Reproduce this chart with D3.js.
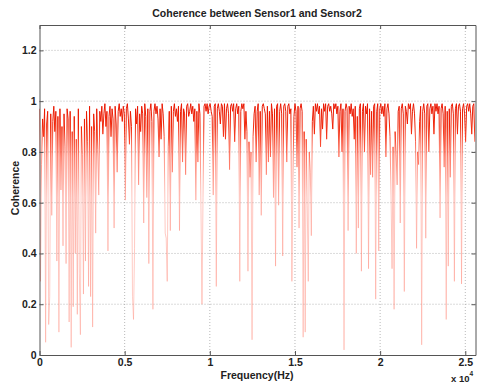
<!DOCTYPE html>
<html>
<head>
<meta charset="utf-8">
<script src="https://cdn.jsdelivr.net/npm/d3@7"></script>
<style>
  body { margin: 0; background: #fff; }
  text { font-family: Arial, "Liberation Sans", sans-serif; }
</style>
</head>
<body>
<script>
// coherence estimate, one value every 60 Hz starting at 0 Hz
const freqStep = 60
const coherence = [
  0.97, 0.29, 0.75, 0.93, 0.86, 0.97, 0.05, 0.91, 0.96, 0.12, 0.23, 0.95, 0.55, 0.92, 0.98, 0.88, 0.96, 0.37, 0.94, 0.09,
  0.97, 0.65, 0.90, 0.43, 0.95, 0.82, 0.36, 0.97, 0.93, 0.13, 0.96, 0.03, 0.88, 0.19, 0.94, 0.40, 0.85, 0.16, 0.97, 0.32,
  0.08, 0.90, 0.79, 0.24, 0.93, 0.37, 0.96, 0.84, 0.27, 0.98, 0.23, 0.90, 0.11, 0.95, 0.88, 0.48, 0.97, 0.81, 0.63, 0.96,
  0.92, 0.98, 0.87, 0.95, 0.99, 0.90, 0.96, 0.41, 0.94, 0.98, 0.86, 0.97, 0.93, 0.50, 0.98, 0.91, 0.72, 0.96, 0.99, 0.94,
  0.97, 0.92, 0.98, 0.95, 0.61, 0.97, 0.99, 0.93, 0.83, 0.96, 0.90, 0.23, 0.14, 0.42, 0.97, 0.91, 0.98, 0.67, 0.95, 0.88,
  0.98, 0.95, 0.52, 0.99, 0.94, 0.62, 0.97, 0.36, 0.96, 0.99, 0.92, 0.18, 0.96, 0.99, 0.95, 0.98, 0.93, 0.78, 0.97, 0.85,
  0.99, 0.95, 0.86, 0.48, 0.46, 0.29, 0.82, 0.96, 0.49, 0.98, 0.72, 0.96, 0.99, 0.94, 0.97, 0.92, 0.98, 0.49, 0.96, 0.99,
  0.76, 0.97, 0.95, 0.71, 0.98, 0.99, 0.94, 0.96, 0.99, 0.95, 0.98, 0.92, 0.97, 0.61, 0.96, 0.76, 0.99, 0.95, 0.58, 0.20,
  0.62, 0.98, 0.99, 0.96, 0.99, 0.95, 0.98, 0.99, 0.96, 0.94, 0.63, 0.98, 0.99, 0.27, 0.97, 0.99, 0.96, 0.91, 0.99, 0.98,
  0.86, 0.99, 0.85, 0.97, 0.99, 0.95, 0.73, 0.98, 0.99, 0.96, 0.99, 0.84, 0.97, 0.99, 0.95, 0.98, 0.29, 0.96, 0.99, 0.97,
  0.99, 0.85, 0.96, 0.88, 0.33, 0.84, 0.70, 0.80, 0.06, 0.86, 0.95, 0.98, 0.76, 0.96, 0.99, 0.63, 0.96, 0.55, 0.98, 0.99,
  0.97, 0.95, 0.71, 0.98, 0.76, 0.96, 0.78, 0.99, 0.95, 0.62, 0.97, 0.35, 0.98, 0.99, 0.59, 0.96, 0.99, 0.95, 0.39, 0.98,
  0.99, 0.96, 0.76, 0.98, 0.99, 0.95, 0.97, 0.29, 0.70, 0.94, 0.99, 0.96, 0.74, 0.98, 0.50, 0.97, 0.99, 0.96, 0.07, 0.88,
  0.09, 0.85, 0.59, 0.29, 0.80, 0.72, 0.47, 0.92, 0.98, 0.87, 0.99, 0.96, 0.99, 0.95, 0.98, 0.82, 0.97, 0.89, 0.99, 0.96,
  0.99, 0.85, 0.98, 0.99, 0.96, 0.98, 0.95, 0.89, 0.99, 0.97, 0.99, 0.95, 0.98, 0.78, 0.96, 0.99, 0.80, 0.97, 0.02, 0.96,
  0.99, 0.97, 0.49, 0.98, 0.95, 0.99, 0.94, 0.97, 0.85, 0.98, 0.40, 0.94, 0.50, 0.97, 0.99, 0.33, 0.96, 0.99, 0.80, 0.98,
  0.95, 0.99, 0.34, 0.97, 0.71, 0.96, 0.70, 0.98, 0.99, 0.22, 0.96, 0.99, 0.41, 0.97, 0.99, 0.95, 0.98, 0.94, 0.99, 0.78,
  0.97, 0.99, 0.95, 0.86, 0.63, 0.34, 0.82, 0.18, 0.88, 0.79, 0.67, 0.96, 0.98, 0.52, 0.97, 0.99, 0.95, 0.25, 0.98, 0.96,
  0.91, 0.99, 0.97, 0.99, 0.87, 0.96, 0.99, 0.95, 0.84, 0.42, 0.80, 0.75, 0.92, 0.98, 0.04, 0.96, 0.99, 0.95, 0.46, 0.98,
  0.99, 0.80, 0.97, 0.99, 0.95, 0.98, 0.87, 0.99, 0.96, 0.99, 0.95, 0.98, 0.54, 0.97, 0.99, 0.95, 0.74, 0.98, 0.14, 0.96,
  0.35, 0.97, 0.70, 0.98, 0.99, 0.95, 0.29, 0.97, 0.99, 0.87, 0.98, 0.99, 0.96, 0.28, 0.97, 0.99, 0.95, 0.84, 0.98, 0.99,
  0.96, 0.99, 0.95, 0.87, 0.98, 0.99, 0.84
]
const xTicks = [0, 5000, 10000, 15000, 20000, 25000]
const yTicks = [0, 0.2, 0.4, 0.6, 0.8, 1, 1.2]

const width = 477
const height = 385
const margin = { top: 25, right: 1.5, bottom: 30, left: 39.5 }

const svg = d3.select('body')
  .append('svg')
  .attr('width', width)
  .attr('height', height)

const x = d3.scaleLinear()
  .domain([0, 25600])
  .range([margin.left, width - margin.right])

const y = d3.scaleLinear()
  .domain([0, 1.3])
  .range([height - margin.bottom, margin.top])

// dotted grid
svg.append('g')
  .selectAll('line')
  .data(xTicks.slice(1))
  .enter()
  .append('line')
  .attr('x1', d => x(d))
  .attr('x2', d => x(d))
  .attr('y1', margin.top)
  .attr('y2', height - margin.bottom)
  .attr('stroke', '#9a9a9a')
  .attr('stroke-width', 0.7)
  .attr('stroke-dasharray', '1,2')

svg.append('g')
  .selectAll('line')
  .data(yTicks.slice(1))
  .enter()
  .append('line')
  .attr('x1', margin.left)
  .attr('x2', width - margin.right)
  .attr('y1', d => y(d))
  .attr('y2', d => y(d))
  .attr('stroke', '#9a9a9a')
  .attr('stroke-width', 0.7)
  .attr('stroke-dasharray', '1,2')

const defs = svg.append('defs')

defs.append('clipPath')
  .attr('id', 'plotArea')
  .append('rect')
  .attr('x', margin.left)
  .attr('y', margin.top)
  .attr('width', width - margin.right - margin.left)
  .attr('height', height - margin.bottom - margin.top)

// crowded band near 1 reads dark red, the lone dips read pink
const grad = defs.append('linearGradient')
  .attr('id', 'lineShade')
  .attr('gradientUnits', 'userSpaceOnUse')
  .attr('x1', 0).attr('x2', 0)
  .attr('y1', y(1)).attr('y2', y(0))
grad.selectAll('stop')
  .data([
    { o: 0, c: '#e81400', a: 1 },
    { o: 0.1, c: '#f01e00', a: 0.95 },
    { o: 0.22, c: '#ff4a30', a: 0.6 },
    { o: 0.38, c: '#ff8070', a: 0.45 },
    { o: 1, c: '#ff8f80', a: 0.4 }
  ])
  .enter()
  .append('stop')
  .attr('offset', d => d.o)
  .attr('stop-color', d => d.c)
  .attr('stop-opacity', d => d.a)

const line = d3.line()
  .x((d, i) => x(i * freqStep))
  .y(d => y(d))

svg.append('path')
  .datum(coherence)
  .attr('clip-path', 'url(#plotArea)')
  .attr('d', line)
  .attr('fill', 'none')
  .attr('stroke', 'url(#lineShade)')
  .attr('stroke-width', 1)

// frame with inward ticks
const xAxis = d3.axisBottom(x)
  .tickValues(xTicks)
  .tickSizeInner(-4)
  .tickSizeOuter(0)
  .tickPadding(4)
  .tickFormat(d => d3.format('~g')(d / 10000))

const yAxis = d3.axisLeft(y)
  .tickValues(yTicks)
  .tickSizeInner(-4)
  .tickSizeOuter(0)
  .tickPadding(3)
  .tickFormat(d3.format('~g'))

const gx = svg.append('g')
  .attr('transform', `translate(0,${height - margin.bottom})`)
  .call(xAxis)

const gy = svg.append('g')
  .attr('transform', `translate(${margin.left},0)`)
  .call(yAxis)

svg.append('g')
  .attr('transform', `translate(0,${margin.top})`)
  .call(d3.axisTop(x).tickValues(xTicks).tickSizeInner(-4).tickSizeOuter(0).tickFormat(''))

svg.append('g')
  .attr('transform', `translate(${width - margin.right},0)`)
  .call(d3.axisRight(y).tickValues(yTicks).tickSizeInner(-4).tickSizeOuter(0).tickFormat(''))

svg.selectAll('.domain').attr('stroke', '#555')
svg.selectAll('.tick line').attr('stroke', '#555')

gx.selectAll('text')
  .attr('font-size', 10.5)
  .attr('font-weight', 'bold')
  .attr('fill', '#222')
gy.selectAll('text')
  .attr('font-size', 10.5)
  .attr('font-weight', 'bold')
  .attr('fill', '#222')

svg.append('text')
  .attr('x', 257)
  .attr('y', 17)
  .attr('text-anchor', 'middle')
  .attr('font-size', 10.5)
  .attr('font-weight', 'bold')
  .attr('fill', '#222')
  .text('Coherence between Sensor1 and Sensor2')

svg.append('text')
  .attr('x', 257)
  .attr('y', 379)
  .attr('text-anchor', 'middle')
  .attr('font-size', 10.5)
  .attr('font-weight', 'bold')
  .attr('fill', '#222')
  .text('Frequency(Hz)')

const expo = svg.append('text')
  .attr('x', 451)
  .attr('y', 382)
  .attr('font-size', 9.5)
  .attr('font-weight', 'bold')
  .attr('fill', '#222')
expo.append('tspan').text('x 10')
expo.append('tspan')
  .attr('dy', -6)
  .attr('font-size', 6.5)
  .text('4')

svg.append('text')
  .attr('transform', 'translate(18.5,188) rotate(-90)')
  .attr('text-anchor', 'middle')
  .attr('font-size', 10.5)
  .attr('font-weight', 'bold')
  .attr('fill', '#222')
  .text('Coherence')
</script>
</body>
</html>
